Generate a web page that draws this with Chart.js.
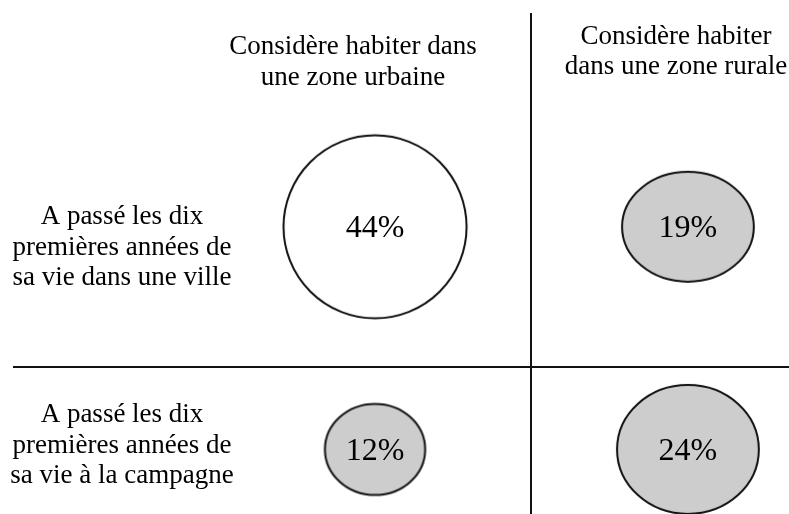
<!DOCTYPE html>
<html>
<head>
<meta charset="utf-8">
<script src="https://cdn.jsdelivr.net/npm/chart.js@4/dist/chart.umd.min.js"></script>
<style>
  html, body { margin: 0; padding: 0; background: #fff; }
  #wrap { width: 789px; height: 514px; }
</style>
</head>
<body>
<div id="wrap"><canvas id="quad" width="789" height="514"></canvas></div>
<script>
// columns / rows of the 2x2 grid
const colLabels = [
    ['Considère habiter dans', 'une zone urbaine'],
    ['Considère habiter', 'dans une zone rurale']
];
const rowLabels = [
    ['A passé les dix', 'premières années de', 'sa vie dans une ville'],
    ['A passé les dix', 'premières années de', 'sa vie à la campagne']
];
// share of respondents, rows x columns
const shareVille = [44, 19];
const shareCampagne = [12, 24];

// looks
const FONT = '"Liberation Serif", "Times New Roman", serif';
const GREY = '#cdcdcd';
const bubbleScale = 13.8;          // r = k * sqrt(share)
const bubbleAspect = [1.0, 1.2, 1.1, 1.1]; // width / height of each drawn oval
const bubbleFill = ['#ffffff', GREY, GREY, GREY];

// grid: column 1 -> x=1, column 2 -> x=2 ; top row -> y=2, bottom row -> y=1
const points = [];
shareVille.forEach((v, i) => points.push({ x: i + 1, y: 2, r: bubbleScale * Math.sqrt(v), v: v }));
shareCampagne.forEach((v, i) => points.push({ x: i + 1, y: 1, r: bubbleScale * Math.sqrt(v), v: v }));

function ovalStyle(r, aspect, fill) {
    const w = 2 * r * Math.sqrt(aspect), h = 2 * r / Math.sqrt(aspect);
    const c = document.createElement('canvas');
    c.width = Math.ceil(w + 4);
    c.height = Math.ceil(h + 4);
    const g = c.getContext('2d');
    g.beginPath();
    g.ellipse(c.width / 2, c.height / 2, w / 2, h / 2, 0, 0, Math.PI * 2);
    g.fillStyle = fill;
    g.fill();
    g.lineWidth = 2;
    g.strokeStyle = '#111';
    g.stroke();
    return c;
}

const textPlugin = {
    id: 'quadText',
    afterDatasetsDraw(chart) {
        const ctx = chart.ctx;
        ctx.save();
        ctx.fillStyle = '#000';
        ctx.textAlign = 'center';

        // value labels inside bubbles
        ctx.font = '32px ' + FONT;
        ctx.textBaseline = 'middle';
        chart.getDatasetMeta(0).data.forEach((el, i) => {
            ctx.fillText(points[i].v + '%', el.x, el.y + 2);
        });

        // column headers
        ctx.font = '27px ' + FONT;
        ctx.textBaseline = 'alphabetic';
        const headerPos = [{ x: 353, y: 54, lh: 31 }, { x: 676, y: 44, lh: 30 }];
        colLabels.forEach((lines, i) => {
            lines.forEach((t, j) => ctx.fillText(t, headerPos[i].x, headerPos[i].y + j * headerPos[i].lh));
        });

        // row headers
        const rowPos = [{ x: 122, y: 224 }, { x: 122, y: 422 }];
        rowLabels.forEach((lines, i) => {
            lines.forEach((t, j) => ctx.fillText(t, rowPos[i].x, rowPos[i].y + j * 30.5));
        });
        ctx.restore();
    }
};

new Chart(document.getElementById('quad'), {
    type: 'bubble',
    data: {
        datasets: [{
            data: points,
            clip: false,
            pointStyle: c => {
                if (c.raw === undefined) return 'circle';
                return ovalStyle(c.raw.r, bubbleAspect[c.dataIndex], bubbleFill[c.dataIndex]);
            },
            backgroundColor: GREY,
            borderColor: '#111'
        }]
    },
    options: {
        responsive: false,
        animation: false,
        events: [],
        layout: { autoPadding: false, padding: { top: 13, left: 13, right: 0, bottom: 0 } },
        plugins: { legend: { display: false }, tooltip: { enabled: false } },
        scales: {
            x: {
                type: 'linear',
                min: -0.157, max: 2.323,
                afterBuildTicks: s => { s.ticks = [{ value: 1.5 }]; },
                afterFit: s => { s.height = 0; },
                ticks: { display: false },
                grid: { color: '#111', lineWidth: 2, drawTicks: false },
                border: { display: false }
            },
            y: {
                type: 'linear',
                min: 0.71, max: 2.96,
                afterBuildTicks: s => { s.ticks = [{ value: 1.37 }]; },
                afterFit: s => { s.width = 0; },
                ticks: { display: false },
                grid: { color: '#111', lineWidth: 2, drawTicks: false },
                border: { display: false }
            }
        }
    },
    plugins: [textPlugin]
});
</script>
</body>
</html>
